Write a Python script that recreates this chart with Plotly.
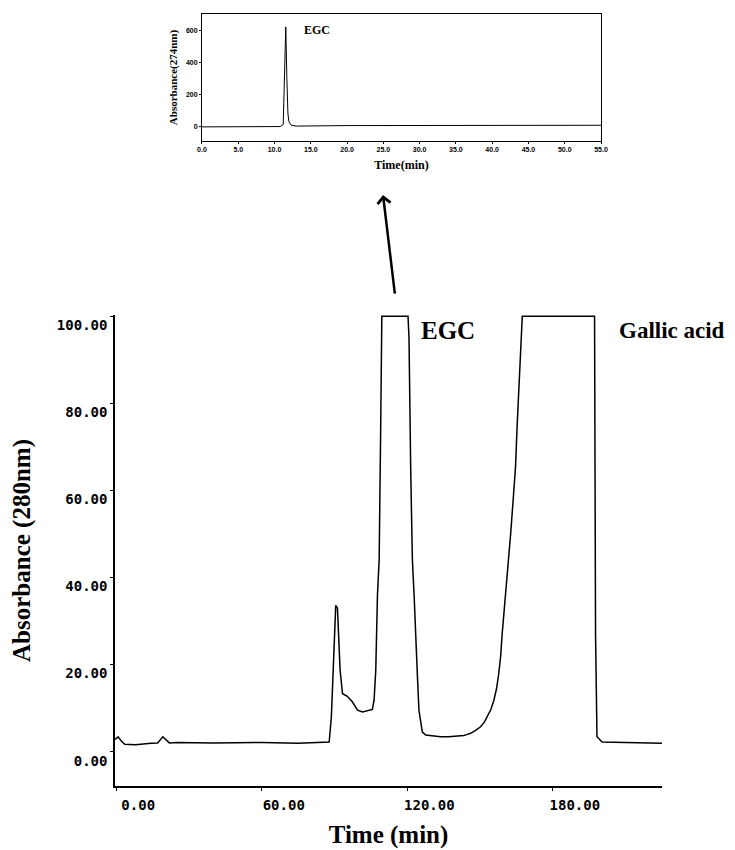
import plotly.graph_objects as go

# ---------------- main chromatogram (280 nm) ----------------
time_min = [-0.5, 0.8, 2.0, 3.5, 8, 12, 14.4, 17.1, 19.2, 21.9, 25, 40, 60, 75, 87.8,
            88.7, 89.6, 89.8, 90.5, 91.2, 91.8, 92.3, 93.3, 95.3, 97.4, 99.5, 101.5,
            105.6, 106.3, 107.0, 107.7, 108.4, 109.0, 109.5, 120.3, 120.7, 121.4,
            122.1, 122.8, 123.5, 124.2, 124.8, 126.2, 127.6, 133.7, 137.0, 140.0, 143.3,
            144.5, 146.1, 148.0, 150.2, 151.7, 153.0, 154.4, 155.7, 156.8, 157.7, 158.5,
            159.1, 160.0, 160.9, 161.8, 162.6, 163.6, 164.6, 165.3, 166.0, 166.7, 167.4,
            197.2, 197.4, 197.6, 198.2, 200.3, 210, 225]
absorbance = [2.8, 3.4, 2.5, 1.7, 1.6, 1.7, 1.9, 2.0, 3.4, 2.0, 2.1, 2.0, 2.1, 1.9, 2.2,
              8.0, 21.0, 27.0, 33.6, 33.0, 26.0, 18.7, 13.3, 12.7, 11.4, 9.5, 9.1,
              9.7, 11.8, 18.7, 36.0, 44.0, 73.0, 100, 100, 95.0, 65.0,
              44.0, 36.0, 24.8, 17.0, 9.5, 4.5, 3.8, 3.4, 3.4, 3.5, 3.7,
              3.9, 4.2, 4.8, 5.7, 6.7, 8.0, 9.6, 11.8, 14.5, 17.9, 22.0,
              27.0, 32.5, 38.6, 44.0, 50.0, 57.5, 65.3, 75.0, 84.4, 92.0, 100,
              100, 65.0, 27.0, 3.4, 2.2, 2.1, 1.9]
main_xticks = [0, 60, 120, 180]
main_yticks = [0, 20, 40, 60, 80, 100]

# ---------------- inset chromatogram (274 nm) ----------------
inset_time = [0, 3, 10.8, 11.2, 11.4, 11.55, 11.7, 11.85, 12.0, 12.3, 13, 20, 55]
inset_abs = [0, 0, 2, 15, 300, 620, 300, 80, 30, 10, 5, 8, 10]
inset_xticks = [0, 5, 10, 15, 20, 25, 30, 35, 40, 45, 50, 55]
inset_yticks = [0, 200, 400, 600]

serif = "Liberation Serif"
mono = "DejaVu Sans Mono"
small = dict(family="Liberation Sans", size=7, color="black", weight="bold")

fig = go.Figure()
fig.add_trace(go.Scatter(x=time_min, y=absorbance, mode="lines",
                         line=dict(color="black", width=1.5),
                         xaxis="x", yaxis="y", showlegend=False))
fig.add_trace(go.Scatter(x=inset_time, y=inset_abs, mode="lines",
                         line=dict(color="black", width=1), xaxis="x2", yaxis="y2",
                         showlegend=False))

# page body has an 8px default margin, so the figure is 8px smaller than the window
fig.update_layout(
    width=727, height=842,
    margin=dict(l=107, r=73, t=6, b=64),
    paper_bgcolor="white", plot_bgcolor="white",
    xaxis=dict(domain=[0, 1], anchor="y", range=[-0.5, 225], automargin=False,
               tickvals=main_xticks, tickformat=".2f",
               tickfont=dict(family=mono, size=14, color="black", weight="bold"),
               ticks="outside", ticklen=3, tickcolor="black", ticklabelshift=22,
               ticklabelstandoff=2,
               showline=True, linecolor="black", linewidth=1.5, showgrid=False,
               zeroline=False,
               title=dict(text="Time (min)", standoff=14,
                          font=dict(family=serif, size=25, color="black", weight="bold"))),
    yaxis=dict(domain=[0, 0.6101], anchor="x", range=[-7.9, 100.3], automargin=False,
               tickvals=main_yticks, tickformat=".2f",
               tickfont=dict(family=mono, size=14, color="black", weight="bold"),
               ticks="outside", ticklen=3, tickcolor="black", ticklabelshift=9,
               showline=True, linecolor="black", linewidth=1.5, showgrid=False,
               zeroline=False,
               title=dict(text="Absorbance (280nm)", standoff=22,
                          font=dict(family=serif, size=25, color="black", weight="bold"))),
    xaxis2=dict(domain=[0.159, 0.8885], anchor="y2", range=[0, 55], automargin=False,
                tickvals=inset_xticks, tickformat=".1f", tickfont=small,
                ticks="outside", ticklen=2, tickcolor="black",
                showline=True, mirror=True, linecolor="black", linewidth=1,
                showgrid=False, zeroline=False,
                title=dict(text="Time(min)", standoff=8,
                           font=dict(family=serif, size=12, color="black", weight="bold"))),
    yaxis2=dict(domain=[0.8355, 1.0], anchor="x2", range=[-87.5, 700], automargin=False,
                tickvals=inset_yticks, tickfont=small,
                ticks="outside", ticklen=2, tickcolor="black",
                showline=True, mirror=True, linecolor="black", linewidth=1,
                showgrid=False, zeroline=False,
                title=dict(text="Absorbance(274nm)", standoff=6,
                           font=dict(family=serif, size=11, color="black", weight="bold"))),
)

fig.add_annotation(x=124.7, y=96.7, xref="x", yref="y", text="EGC", showarrow=False,
                   xanchor="left", yanchor="middle",
                   font=dict(family=serif, size=25, color="black", weight="bold"))
fig.add_annotation(x=206.6, y=96.7, xref="x", yref="y", text="Gallic acid", showarrow=False,
                   xanchor="left", yanchor="middle",
                   font=dict(family=serif, size=23, color="black", weight="bold"))
fig.add_annotation(x=13.8, y=600, xref="x2", yref="y2", text="EGC", showarrow=False,
                   xanchor="left", yanchor="middle",
                   font=dict(family=serif, size=12, color="black", weight="bold"))
# arrow from main EGC peak up to the inset
fig.add_annotation(x=0.49, y=0.7655, xref="paper", yref="paper", text="",
                   showarrow=True, ax=12, ay=100, axref="pixel", ayref="pixel",
                   arrowhead=4, arrowsize=1, arrowwidth=2.5, arrowcolor="black")

fig.write_html("out.html")
